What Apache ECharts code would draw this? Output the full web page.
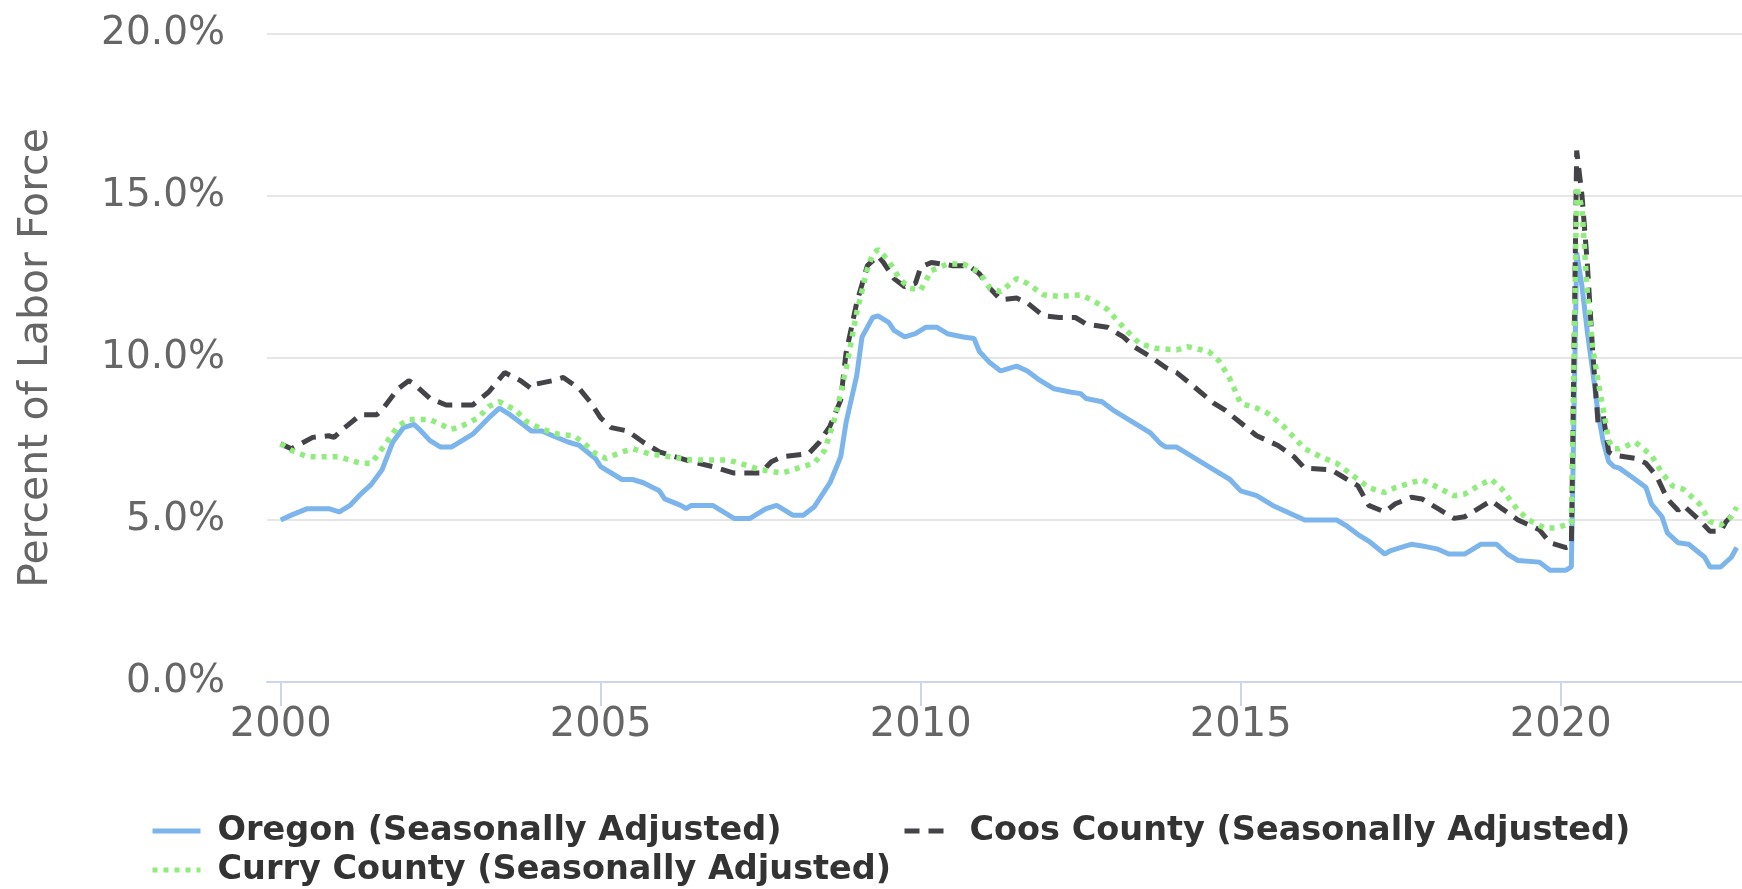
<!DOCTYPE html>
<html>
<head>
<meta charset="utf-8">
<title>Unemployment rate</title>
<script src="https://cdn.jsdelivr.net/npm/echarts@6/dist/echarts.min.js"></script>
<style>
  html, body { margin: 0; padding: 0; background: #fff; }
  #chart { width: 1742px; height: 889px; }
</style>
</head>
<body>
<div id="chart"></div>
<script>
// series names (legend order)
const seriesNames = [
  "Oregon (Seasonally Adjusted)",
  "Coos County (Seasonally Adjusted)",
  "Curry County (Seasonally Adjusted)"
];

// [month, percent]
const oregonData = [
  ["2000-01",5.0],["2000-03",5.15],["2000-06",5.35],["2000-10",5.35],["2000-12",5.25],
  ["2001-02",5.45],["2001-04",5.8],["2001-06",6.1],["2001-08",6.55],["2001-10",7.4],["2001-12",7.85],
  ["2002-02",7.95],["2002-03",7.8],["2002-05",7.45],["2002-07",7.25],["2002-09",7.25],["2002-11",7.45],
  ["2003-01",7.65],["2003-04",8.15],["2003-06",8.45],["2003-08",8.25],["2003-10",8.0],["2003-12",7.75],
  ["2004-02",7.75],["2004-04",7.6],["2004-07",7.4],["2004-09",7.3],["2004-12",6.9],
  ["2005-01",6.65],["2005-05",6.25],["2005-07",6.25],["2005-09",6.15],["2005-12",5.9],
  ["2006-01",5.65],["2006-04",5.45],["2006-05",5.35],["2006-06",5.45],["2006-10",5.45],
  ["2007-02",5.05],["2007-05",5.05],["2007-08",5.35],["2007-10",5.45],
  ["2008-01",5.15],["2008-03",5.15],["2008-05",5.4],["2008-08",6.15],["2008-10",6.95],["2008-11",8.0],
  ["2009-01",9.45],["2009-02",10.65],["2009-04",11.25],["2009-05",11.3],["2009-07",11.1],["2009-08",10.85],["2009-10",10.65],["2009-12",10.75],
  ["2010-02",10.95],["2010-04",10.95],["2010-06",10.75],["2010-09",10.65],["2010-11",10.6],["2010-12",10.2],
  ["2011-02",9.85],["2011-04",9.6],["2011-07",9.75],["2011-09",9.6],["2011-11",9.35],
  ["2012-02",9.05],["2012-05",8.95],["2012-07",8.9],["2012-08",8.75],["2012-11",8.65],
  ["2013-01",8.4],["2013-05",8.0],["2013-08",7.7],["2013-10",7.35],["2013-11",7.25],
  ["2014-01",7.25],["2014-05",6.85],["2014-08",6.55],["2014-11",6.25],
  ["2015-01",5.9],["2015-04",5.75],["2015-07",5.45],
  ["2016-01",5.0],["2016-07",5.0],["2016-09",4.8],["2016-11",4.55],
  ["2017-01",4.35],["2017-04",3.95],["2017-05",4.05],["2017-08",4.2],["2017-09",4.25],["2017-11",4.2],
  ["2018-02",4.1],["2018-04",3.95],["2018-07",3.95],["2018-10",4.25],
  ["2019-01",4.25],["2019-03",3.95],["2019-05",3.75],["2019-09",3.7],["2019-11",3.45],
  ["2020-02",3.45],["2020-03",3.55],["2020-04",13.25],["2020-05",12.2],["2020-06",10.8],["2020-07",9.6],
  ["2020-08",8.3],["2020-09",7.4],["2020-10",6.8],["2020-11",6.65],["2020-12",6.6],
  ["2021-03",6.25],["2021-05",6.0],["2021-06",5.5],["2021-08",5.1],["2021-09",4.6],["2021-11",4.3],
  ["2022-01",4.25],["2022-04",3.85],["2022-05",3.55],["2022-07",3.55],["2022-09",3.85],["2022-10",4.15]
];

const coosData = [
  ["2000-01",7.35],["2000-03",7.2],["2000-07",7.55],["2000-10",7.6],["2000-11",7.55],
  ["2001-01",7.85],["2001-04",8.25],["2001-07",8.25],["2001-08",8.4],["2001-11",9.05],
  ["2002-01",9.3],["2002-02",9.2],["2002-05",8.75],["2002-08",8.55],
  ["2003-01",8.55],["2003-04",8.95],["2003-07",9.55],["2003-10",9.3],["2003-12",9.05],
  ["2004-01",9.2],["2004-04",9.3],["2004-06",9.4],["2004-09",9.05],["2004-11",8.65],
  ["2005-01",8.15],["2005-03",7.85],["2005-06",7.75],["2005-09",7.4],["2005-12",7.1],
  ["2006-04",6.9],["2006-06",6.8],["2006-10",6.65],
  ["2007-02",6.45],["2007-07",6.45],["2007-09",6.8],["2007-11",6.95],
  ["2008-04",7.05],["2008-06",7.4],["2008-08",7.9],["2008-10",8.7],["2008-11",10.15],
  ["2009-01",11.7],["2009-03",12.85],["2009-05",13.15],["2009-06",12.95],["2009-08",12.45],["2009-10",12.2],["2009-12",12.3],
  ["2010-01",12.8],["2010-03",12.95],["2010-07",12.85],["2010-10",12.85],["2010-12",12.6],
  ["2011-02",12.15],["2011-04",11.8],["2011-07",11.85],["2011-09",11.7],["2011-12",11.3],
  ["2012-03",11.25],["2012-06",11.25],["2012-08",11.05],["2012-12",10.95],
  ["2013-03",10.65],["2013-05",10.35],["2013-08",10.05],["2013-11",9.7],
  ["2014-01",9.55],["2014-04",9.15],["2014-08",8.6],["2014-10",8.4],
  ["2015-01",8.0],["2015-04",7.6],["2015-08",7.3],["2015-11",6.95],
  ["2016-01",6.6],["2016-06",6.55],["2016-08",6.35],["2016-11",6.05],
  ["2017-01",5.45],["2017-04",5.25],["2017-06",5.5],["2017-09",5.7],["2017-11",5.65],
  ["2018-02",5.35],["2018-05",5.05],["2018-07",5.1],["2018-10",5.4],["2018-12",5.6],
  ["2019-02",5.35],["2019-05",5.0],["2019-09",4.7],["2019-11",4.3],
  ["2020-02",4.15],["2020-03",4.2],["2020-04",16.4],["2020-05",15.0],["2020-06",12.9],["2020-07",10.2],
  ["2020-08",8.0],["2020-09",8.2],["2020-10",7.1],["2020-11",7.0],
  ["2021-03",6.9],["2021-05",6.75],["2021-07",6.35],["2021-09",5.65],["2021-11",5.3],["2021-12",5.45],
  ["2022-03",5.0],["2022-05",4.65],["2022-07",4.65],["2022-08",4.95],["2022-10",5.3]
];

const curryData = [
  ["2000-01",7.35],["2000-03",7.15],["2000-06",6.95],["2000-12",6.95],
  ["2001-02",6.85],["2001-04",6.75],["2001-06",6.75],["2001-08",7.2],["2001-11",7.9],
  ["2002-01",8.1],["2002-05",8.1],["2002-07",7.95],["2002-09",7.8],["2002-11",7.9],
  ["2003-02",8.15],["2003-04",8.5],["2003-06",8.65],["2003-09",8.4],["2003-11",8.05],
  ["2004-02",7.8],["2004-05",7.65],["2004-08",7.6],["2004-10",7.35],["2004-12",7.05],
  ["2005-02",6.9],["2005-05",7.1],["2005-07",7.2],["2005-10",7.05],
  ["2006-02",6.95],["2006-06",6.85],["2007-01",6.85],["2007-04",6.7],["2007-07",6.55],["2007-11",6.45],
  ["2008-02",6.6],["2008-05",6.75],["2008-07",7.15],["2008-09",8.2],["2008-11",9.65],
  ["2009-01",11.4],["2009-03",12.75],["2009-04",13.2],["2009-05",13.35],["2009-07",13.0],["2009-09",12.45],["2009-11",12.15],
  ["2010-01",12.1],["2010-03",12.7],["2010-06",12.9],["2010-09",12.9],["2010-12",12.65],
  ["2011-02",12.15],["2011-04",12.05],["2011-07",12.45],["2011-09",12.3],["2011-12",11.95],
  ["2012-03",11.9],["2012-07",11.95],["2012-09",11.8],["2012-12",11.5],
  ["2013-03",10.95],["2013-06",10.45],["2013-09",10.3],
  ["2014-01",10.25],["2014-03",10.35],["2014-07",10.2],["2014-09",9.9],["2014-11",9.35],
  ["2015-01",8.6],["2015-04",8.45],["2015-06",8.3],["2015-09",7.9],
  ["2016-01",7.2],["2016-04",6.95],["2016-07",6.75],["2016-11",6.25],
  ["2017-01",6.0],["2017-04",5.85],["2017-06",6.0],["2017-09",6.15],["2017-11",6.25],
  ["2018-02",6.0],["2018-05",5.75],["2018-07",5.8],["2018-10",6.1],["2018-12",6.25],
  ["2019-02",5.95],["2019-05",5.3],["2019-07",5.0],["2019-10",4.75],["2019-12",4.75],
  ["2020-03",4.9],["2020-04",15.3],["2020-05",14.6],["2020-06",12.0],["2020-07",10.3],
  ["2020-08",9.3],["2020-09",8.4],["2020-10",7.45],["2020-11",7.2],["2020-12",7.2],
  ["2021-03",7.4],["2021-06",7.0],["2021-08",6.45],["2021-10",6.05],["2021-12",5.95],
  ["2022-03",5.5],["2022-05",4.95],["2022-07",4.85],["2022-09",5.1],["2022-10",5.4]
];

// axis ticks
const xTickYears = [2000, 2005, 2010, 2015, 2020];
const yTicks = [0, 5, 10, 15, 20];

function toYear(s) {
  const p = s.split("-");
  return Number(p[0]) + (Number(p[1]) - 1) / 12;
}

const FONT = "DejaVu Sans";
const chart = echarts.init(document.getElementById("chart"));

const legendCommon = {
  orient: "horizontal",
  padding: 0,
  itemWidth: 48,
  itemHeight: 14,
  selectedMode: false,
  itemStyle: { opacity: 0 },   // hide the marker, keep the line
  lineStyle: { width: 5 },
  textStyle: {
    fontFamily: FONT,
    fontSize: 33.5,
    fontWeight: "bold",
    color: "#333333",
    padding: [0, 0, 0, 12]
  }
};

let option = {
  animation: false,
  backgroundColor: "#ffffff",
  grid: { left: 267, right: 0, top: 34, bottom: 207 },
  legend: [
    Object.assign({}, legendCommon, { data: [seriesNames[0]], left: 150, top: 814 }),
    Object.assign({}, legendCommon, { data: [seriesNames[1]], left: 902, top: 814 }),
    Object.assign({}, legendCommon, { data: [seriesNames[2]], left: 150, top: 853 })
  ],
  xAxis: {
    type: "value",
    min: 1999.786,
    max: 2022.833,
    splitLine: { show: false },
    axisLine: { show: true, lineStyle: { color: "#ccd6eb", width: 2 } },
    axisTick: {
      show: true,
      length: 24,
      customValues: xTickYears,
      lineStyle: { color: "#ccd6eb", width: 2 }
    },
    axisLabel: {
      customValues: xTickYears,
      formatter: v => String(v),
      fontFamily: FONT,
      fontSize: 40,
      color: "#666666",
      margin: 24
    }
  },
  yAxis: {
    type: "value",
    min: yTicks[0],
    max: yTicks[yTicks.length - 1],
    interval: 5,
    name: "Percent of Labor Force",
    nameLocation: "middle",
    nameGap: 210,
    nameTextStyle: { fontFamily: FONT, fontSize: 41, color: "#666666" },
    axisLine: { show: false },
    axisTick: { show: false },
    splitLine: { lineStyle: { color: "#e6e6e6", width: 2 } },
    axisLabel: {
      formatter: v => v.toFixed(1) + "%",
      fontFamily: FONT,
      fontSize: 39,
      color: "#666666",
      margin: 42,
      padding: [0, 0, 10, 0]
    }
  },
  series: [
    {
      name: seriesNames[0],
      type: "line",
      symbol: "none",
      color: "#7cb5ec",
      lineStyle: { color: "#7cb5ec", width: 5 },
      data: oregonData.map(d => [toYear(d[0]), d[1]])
    },
    {
      name: seriesNames[1],
      type: "line",
      symbol: "none",
      color: "#434348",
      lineStyle: { color: "#434348", width: 5, type: [15, 9] },
      data: coosData.map(d => [toYear(d[0]), d[1]])
    },
    {
      name: seriesNames[2],
      type: "line",
      symbol: "none",
      color: "#90ed7d",
      lineStyle: { color: "#90ed7d", width: 5.5, type: [5, 6] },
      data: curryData.map(d => [toYear(d[0]), d[1]])
    }
  ]
};

chart.setOption(option);
</script>
</body>
</html>
